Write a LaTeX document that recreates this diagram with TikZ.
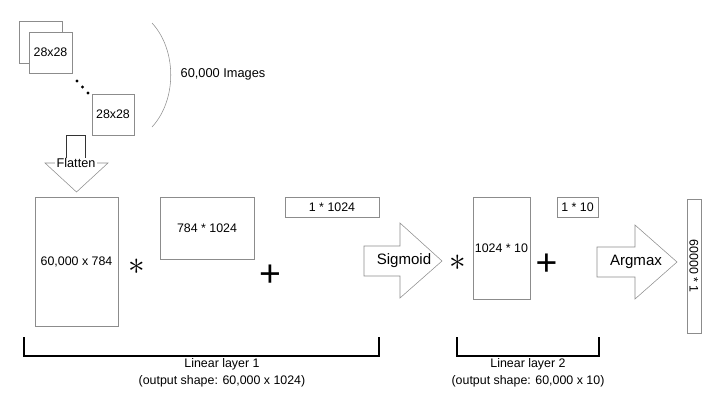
\documentclass[tikz,border=0pt]{standalone}
\usepackage{fontspec}
\setmainfont{Liberation Sans}
\usepackage{xcolor}
\usepackage{tikz}
\definecolor{boxline}{gray}{0.55}
\tikzstyle{mat} = [rectangle, draw=boxline, fill=white, inner sep=0pt, text centered, font=\fontsize{9.3}{11}\selectfont]
\tikzstyle{op} = [inner sep=0pt, font=\fontsize{28}{28}\selectfont]
\tikzstyle{star} = [inner sep=0pt, font=\fontsize{25}{25}\selectfont]
\tikzstyle{bigarrow} = [draw=boxline, fill=white, line join=miter]
\tikzstyle{arrowtext} = [inner sep=0pt, font=\fontsize{11.3}{13}\selectfont]
\tikzstyle{brack} = [draw=black, line width=1pt]
\tikzstyle{caption} = [font=\fontsize{9.3}{12.75}\selectfont]
\tikzset{every node/.style={align=center}}

\begin{document}
\begin{tikzpicture}[x=0.75pt, y=-0.75pt]
    \useasboundingbox (0,0) rectangle (714,400);

    \node (back)  [mat, minimum width=32.25pt, minimum height=31.5pt] at (40.5,42) {};
    \node (front) [mat, minimum width=32.25pt, minimum height=30.75pt] at (50.5,52.5) {28x28};
    \node (last)  [mat, minimum width=31.5pt, minimum height=30.75pt] at (113,114.5) {28x28};
    \fill (77,81) circle (1.6) (82.5,87) circle (1.6) (88,93) circle (1.6);
    \draw [boxline] (152,23) .. controls (177,50) and (177,100) .. (152,127);
    \node (count) [font=\fontsize{9.6}{11}\selectfont] at (223,74.5) {60,000 Images};

    \draw [bigarrow] (45,163) -- (108,163) -- (76.5,192) -- cycle;
    \draw [black!80] (66,163) -- (66,135) -- (85,135) -- (85,163);
    \node (flat) [fill=white, inner xsep=1pt, inner ysep=0pt, font=\fontsize{9.5}{11}\selectfont] at (76,163) {Flatten};

    \node (x)    [mat, minimum width=62.25pt, minimum height=96.75pt] at (76.5,261.5) {60,000 x 784};
    \node (mul1) [star] at (137,267) {$\ast$};
    \node (w1)   [mat, minimum width=70.5pt, minimum height=46.5pt] at (207,228) {784 * 1024};
    \node (add1) [op] at (270,275.5) {+};
    \node (b1)   [mat, minimum width=70.5pt, minimum height=15pt] at (332,207) {1 * 1024};

    \draw [bigarrow] (364,246) -- (400,246) -- (400,223) -- (442,261) -- (400,298) -- (400,276) -- (364,276) -- cycle;
    \node (sig) [arrowtext] at (404,261) {Sigmoid};

    \node (mul2) [star] at (458,263) {$\ast$};
    \node (w2)   [mat, minimum width=42.75pt, minimum height=76.5pt] at (501.5,248) {1024 * 10};
    \node (add2) [op] at (546.5,264.5) {+};
    \node (b2)   [mat, minimum width=30.75pt, minimum height=15pt] at (577.5,207) {1 * 10};

    \draw [bigarrow] (597,247) -- (635,247) -- (635,225) -- (677,262) -- (635,299) -- (635,277) -- (597,277) -- cycle;
    \node (amax) [arrowtext] at (636,262) {Argmax};

    \node (out) [mat, rotate=-90, minimum width=100.5pt, minimum height=10.5pt] at (694,266) {60000 * 1};

    \draw [brack] (24,337) |- (379,356) -- (379,337);
    \node (lin1) [caption] at (222,372.5) {Linear layer 1\\(output shape: 60,000 x 1024)};
    \draw [brack] (457,337) |- (599,356) -- (599,337);
    \node (lin2) [caption] at (528,372.5) {Linear layer 2\\(output shape: 60,000 x 10)};
\end{tikzpicture}
\end{document}
